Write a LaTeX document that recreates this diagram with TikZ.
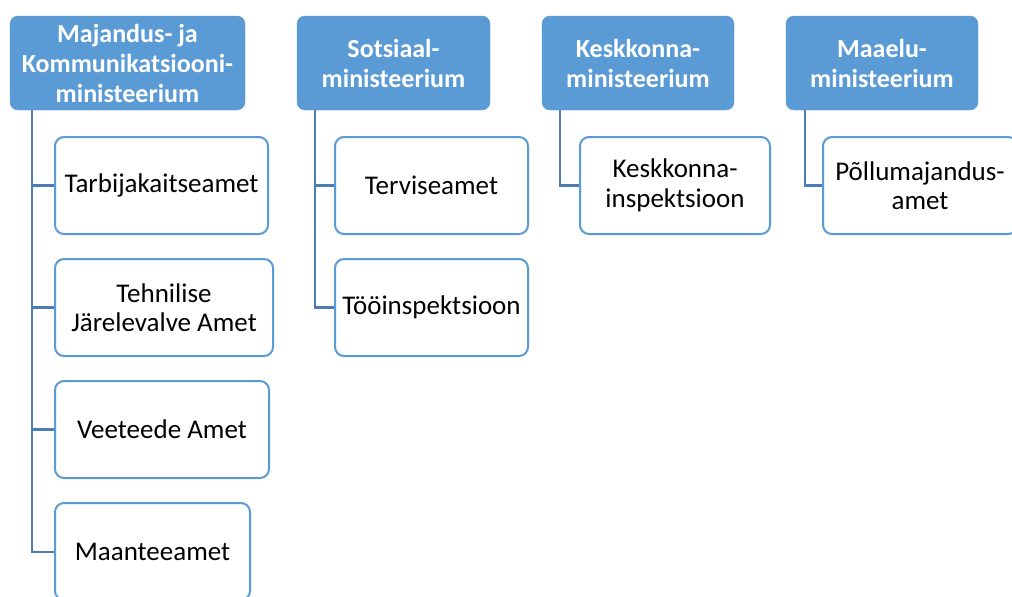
\documentclass[tikz,border=0pt]{standalone}
\usepackage{fontspec}
\setmainfont{Carlito}
\definecolor{hdr}{HTML}{5B9BD5}
\definecolor{cbord}{HTML}{5B9BD5}
\definecolor{conn}{HTML}{4A7DB5}
\begin{document}
\begin{tikzpicture}[x=1pt,y=-1pt,
  hdrbox/.style={rectangle,rounded corners=8pt,fill=hdr,draw=hdr,text=white,
    font=\fontsize{26}{30}\selectfont\bfseries,align=center,inner sep=0pt,minimum height=94pt},
  childbox/.style={rectangle,rounded corners=9pt,fill=white,draw=cbord,line width=2pt,
    font=\fontsize{27}{29.5}\selectfont,align=center,inner sep=0pt,minimum height=97pt},
  connline/.style={draw=conn,line width=2.4pt}]
\useasboundingbox (0,0) rectangle (1012,597);
\fill[white] (0,0) rectangle (1012,597);
% headers
\node[hdrbox,minimum width=235pt] (h1) at (127.5,63) {Majandus- ja\\Kommunikatsiooni-\\ministeerium};
\node[hdrbox,minimum width=193pt] (h2) at (393.5,63) {Sotsiaal-\\ministeerium};
\node[hdrbox,minimum width=192pt] (h3) at (638,63) {Keskkonna-\\ministeerium};
\node[hdrbox,minimum width=192pt] (h4) at (882,63) {Maaelu-\\ministeerium};
% anchor coordinates
\coordinate (h1l) at ([xshift=22pt]h1.south west);
\coordinate (h2l) at ([xshift=18pt]h2.south west);
\coordinate (h3l) at ([xshift=18pt]h3.south west);
\coordinate (h4l) at ([xshift=19pt]h4.south west);
% connectors
\draw[connline] (h1l) |- (161,552);
\foreach \y in {185.5,307.5,429.5,552}{\draw[connline] (32,\y) -- (58,\y);}
\draw[connline] (h2l) |- (338,307.5);
\draw[connline] (315,185.5) -- (338,185.5);
\draw[connline] (h3l) |- (583,185.5);
\draw[connline] (h4l) |- (826,185.5);
% children
\node[childbox,minimum width=213pt] (c11) at (161.5,185.5) {Tarbijakaitseamet};
\node[childbox,minimum width=218pt] (c12) at (164,307.5) {Tehnilise\\Järelevalve Amet};
\node[childbox,minimum width=214pt] (c13) at (162,429.5) {Veeteede Amet};
\node[childbox,minimum width=195pt] (c14) at (152.5,551.5) {Maanteeamet};
\node[childbox,minimum width=193pt] (c21) at (431.5,185.5) {Terviseamet};
\node[childbox,minimum width=193pt] (c22) at (431.5,307.5) {Tööinspektsioon};
\node[childbox,minimum width=190pt] (c31) at (675,185.5) {Keskkonna-\\inspektsioon};
\node[childbox,minimum width=194pt] (c41) at (920,185.5) {Põllumajandus-\\amet};
\end{tikzpicture}
\end{document}
